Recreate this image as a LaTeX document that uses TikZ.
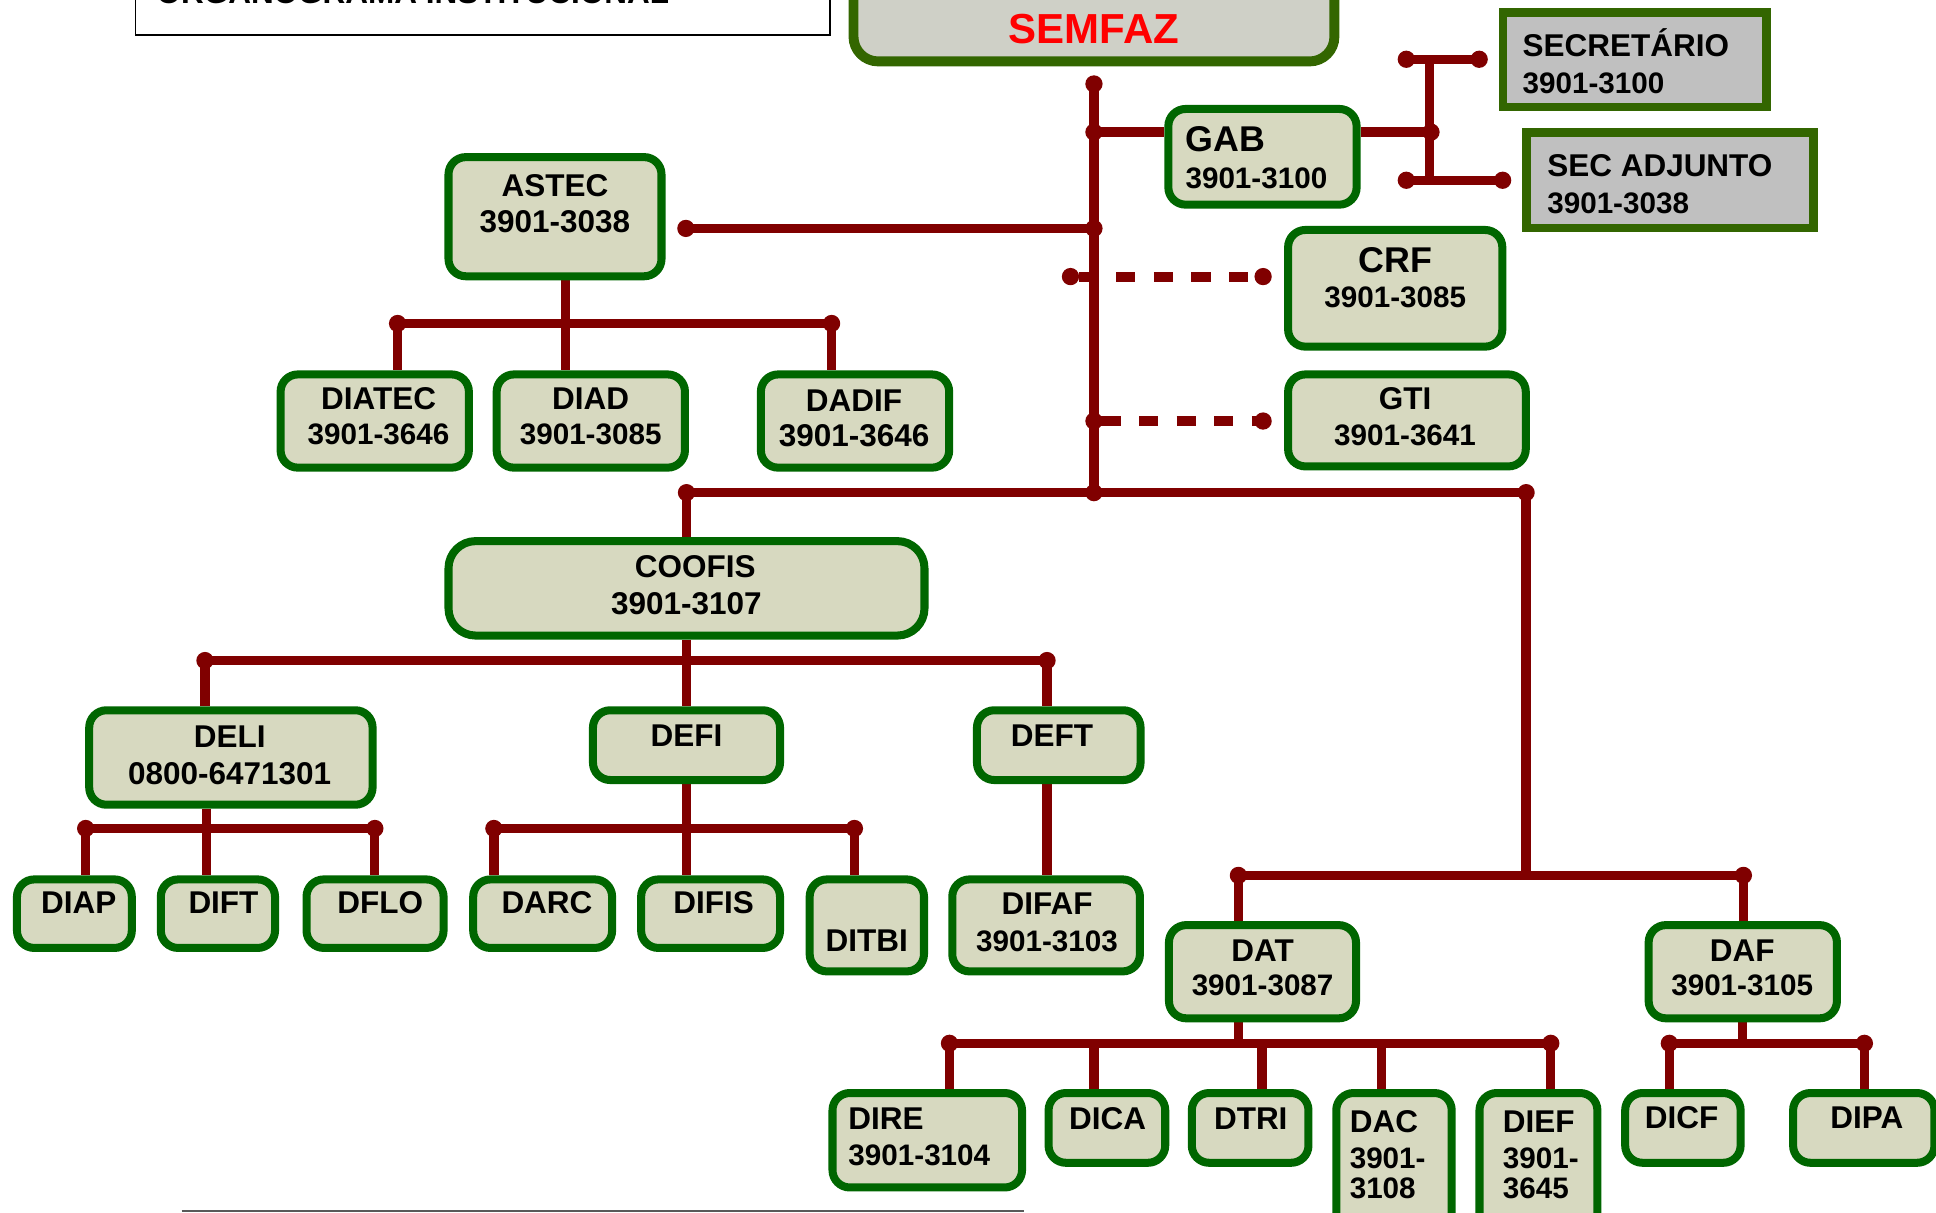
\documentclass[tikz,border=0pt]{standalone}
\usepackage{fontspec}
\setmainfont{Liberation Sans}
\usetikzlibrary{backgrounds}
\definecolor{conred}{HTML}{800000}
\definecolor{bxgreen}{HTML}{006600}
\definecolor{bxfill}{HTML}{D7D9C0}
\definecolor{olv}{HTML}{336600}
\definecolor{semfill}{HTML}{CFD0C7}
\definecolor{secfill}{HTML}{C0C0C0}
\definecolor{semred}{HTML}{FF0000}
\tikzset{
  box/.style={draw=bxgreen, line width=6.5pt, fill=bxfill, rounded corners=14pt, inner sep=0pt, rectangle},
  bigbox/.style={box, rounded corners=22pt},
  secbox/.style={draw=olv, line width=7pt, fill=secfill, inner sep=0pt, rectangle},
  sembox/.style={draw=olv, line width=8pt, fill=semfill, rounded corners=20pt, inner sep=0pt, rectangle},
  titlebox/.style={draw=black, line width=1.5pt, fill=white, inner sep=0pt, rectangle},
  conn/.style={draw=conred, line width=7.5pt},
  dashconn/.style={draw=conred, line width=8pt, dash pattern=on 15.5pt off 15pt},
  dotc/.style={fill=conred},
  nm/.style={anchor=base, inner sep=0pt, font=\bfseries\fontsize{25.5}{28}\selectfont},
  nml/.style={nm, anchor=base west},
  nmbig/.style={nm, font=\bfseries\fontsize{29}{32}\selectfont},
  num/.style={anchor=base, inner sep=0pt, font=\bfseries\fontsize{24}{27}\selectfont},
  numl/.style={num, anchor=base west},
  numbig/.style={anchor=base, inner sep=0pt, font=\bfseries\fontsize{25.5}{28}\selectfont},
}
\newcommand{\bx}[6][box]{\node[#1, minimum width={(#5)-(#3)-6.5}, minimum height={(#6)-(#4)-6.5}] (#2) at ({((#3)+(#5))/2},{((#4)+(#6))/2}) {};}
\newcommand{\dt}[1]{\fill[dotc] (#1) circle[radius=7pt];}
\begin{document}
\begin{tikzpicture}[x=1pt,y=-1pt]
\useasboundingbox (0,0) rectangle (1568,982);
\clip (0,0) rectangle (1568,982);

% title
\node[titlebox, minimum width=562.5, minimum height=87.5] (title) at (391,-15.5) {};
\node[anchor=base west, inner sep=0pt, font=\bfseries\fontsize{25.5}{28}\selectfont] (t-title) at (126.6,3) {ORGANOGRAMA INSTITUCIONAL};

% boxes
\bx[sembox]{semfaz}{688}{-40}{1084}{53}
\bx[secbox]{secretario}{1214}{7}{1434}{90}
\bx[secbox]{secadj}{1233}{104}{1472}{188}
\bx{gab}{943}{85}{1102}{169}
\bx{astec}{360}{124}{539}{227}
\bx{crf}{1040}{183}{1220}{284}
\bx{gti}{1040}{300}{1239}{381}
\bx{diatec}{224}{300}{383}{382}
\bx{diad}{399}{300}{558}{382}
\bx{dadif}{613}{300}{772}{382}
\bx[bigbox]{coofis}{360}{435}{752}{518}
\bx{deli}{69}{572}{305}{655}
\bx{defi}{477}{572}{635}{635}
\bx{deft}{788}{572}{927}{635}
\bx{diap}{10.5}{709}{110}{771}
\bx{dift}{127}{709}{226}{771}
\bx{dflo}{245}{709}{362.5}{771}
\bx{darc}{380}{709}{499}{771}
\bx{difis}{516}{709}{635}{771}
\bx{ditbi}{652.5}{709}{751.6}{790}
\bx{difaf}{768}{709}{926.5}{790}
\bx{dat}{943.5}{746}{1101.5}{828}
\bx{daf}{1332}{746}{1491}{828}
\bx{dire}{671}{882}{831}{965}
\bx{dica}{846}{882}{947}{945}
\bx{dtri}{962}{882}{1063}{945}
\bx{dac}{1079}{882}{1179}{1000}
\bx{dief}{1195}{882}{1297}{1000}
\bx{dicf}{1313}{882}{1413}{945}
\bx{dipa}{1449}{882}{1570}{945}

% texts
\node[anchor=base, inner sep=0pt, text=semred, font=\bfseries\fontsize{34}{36}\selectfont] (t-semfaz) at (886,35) {SEMFAZ};
\node[nml] (t-sec) at (1233,46) {SECRETÁRIO};
\node[numl] (n-sec) at (1233,76) {3901-3100};
\node[nml] (t-secadj) at (1253,143) {SEC ADJUNTO};
\node[numl] (n-secadj) at (1253,173) {3901-3038};
\node[nmbig, anchor=base west] (t-gab) at (960,123) {GAB};
\node[numl] (n-gab) at (960,152.5) {3901-3100};
\node[nm] (t-astec) at (449.5,159) {ASTEC};
\node[numbig] (n-astec) at (449.5,188) {3901-3038};
\node[nmbig] (t-crf) at (1130,221) {CRF};
\node[num] (n-crf) at (1130,249) {3901-3085};
\node[nm] (t-gti) at (1138,332) {GTI};
\node[num] (n-gti) at (1138,361) {3901-3641};
\node[nm] (t-diatec) at (306.6,332) {DIATEC};
\node[num] (n-diatec) at (306.6,360) {3901-3646};
\node[nm] (t-diad) at (478.4,332) {DIAD};
\node[num] (n-diad) at (478.4,360) {3901-3085};
\node[nm] (t-dadif) at (691.7,333) {DADIF};
\node[numbig] (n-dadif) at (691.7,362) {3901-3646};
\node[nm] (t-coofis) at (563,468) {COOFIS};
\node[numbig] (n-coofis) at (556,498) {3901-3107};
\node[nm] (t-deli) at (186,605.6) {DELI};
\node[numbig] (n-deli) at (186,635.5) {0800-6471301};
\node[nm] (t-defi) at (556,605) {DEFI};
\node[nm] (t-deft) at (852,605) {DEFT};
\node[nm] (t-diap) at (63.8,740) {DIAP};
\node[nm] (t-dift) at (181,740) {DIFT};
\node[nm] (t-dflo) at (308,740) {DFLO};
\node[nm] (t-darc) at (443,740) {DARC};
\node[nm] (t-difis) at (578,740) {DIFIS};
\node[nm] (t-ditbi) at (702,771) {DITBI};
\node[nm] (t-difaf) at (848,741) {DIFAF};
\node[num] (n-difaf) at (848,771) {3901-3103};
\node[nm] (t-dat) at (1022.6,779) {DAT};
\node[num] (n-dat) at (1022.6,806) {3901-3087};
\node[nm] (t-daf) at (1411,779) {DAF};
\node[num] (n-daf) at (1411,806) {3901-3105};
\node[nml] (t-dire) at (687,915) {DIRE};
\node[numl] (n-dire) at (687,944) {3901-3104};
\node[nm] (t-dica) at (897,915) {DICA};
\node[nm] (t-dtri) at (1013,915) {DTRI};
\node[nml] (t-dac) at (1093,917) {DAC};
\node[numl] (n-dac1) at (1093,946) {3901-};
\node[numl] (n-dac2) at (1093,971) {3108};
\node[nml] (t-dief) at (1217,917) {DIEF};
\node[numl] (n-dief1) at (1217,946) {3901-};
\node[numl] (n-dief2) at (1217,971) {3645};
\node[nm] (t-dicf) at (1362,914) {DICF};
\node[nm] (t-dipa) at (1512,914) {DIPA};

% bottom gray rule
\draw[black!65, line width=2pt] (147,981) -- (829,981);

\begin{pgfonlayer}{background}
% main spine
\coordinate (mTop) at (886,68);
\coordinate (mGab) at (886,107);
\coordinate (mAst) at (886,185);
\coordinate (mGti) at (886,341);
\coordinate (mBot) at (886,399);
\draw[conn] (mTop) -- (mBot);
% GAB and secretaries
\coordinate (gR) at (1159,107);
\draw[conn] (mGab) -- (mGab -| gab.west);
\draw[conn] (gab.east |- gR) -- (gR);
\coordinate (tT) at (1158,48);
\coordinate (tB) at (1158,146);
\draw[conn] (tT) -- (tB);
\coordinate (s1L) at (1139,48);
\coordinate (s1R) at (1198,48);
\coordinate (s2L) at (1139,146);
\coordinate (s2R) at (1217,146);
\draw[conn] (s1L) -- (s1R);
\draw[conn] (s2L) -- (s2R);
% ASTEC
\coordinate (aR) at (555.5,185);
\draw[conn] (aR) -- (mAst);
\coordinate (abL) at (322,262);
\coordinate (abR) at (673.5,262);
\coordinate (abS) at (458,262);
\draw[conn] (abL) -- (abR);
\draw[conn] (abS |- astec.south) -- (abS |- diad.north);
\draw[conn] (abL) -- (abL |- diatec.north);
\draw[conn] (abR) -- (abR |- dadif.north);
% CRF / GTI dashed
\coordinate (cL) at (867,224);
\coordinate (cR) at (1023,224);
\draw[dashconn, dash phase=24pt] (cL) -- (cR);
\coordinate (gtR) at (1023,341);
\draw[dashconn, dash phase=24.5pt] (mGti) -- (gtR);
% bottom bar
\coordinate (bL) at (556,399);
\coordinate (bR) at (1236,399);
\draw[conn] (bL) -- (bR);
\draw[conn] (bL) -- (bL |- coofis.north);
\coordinate (rL) at (1003,709);
\coordinate (rR) at (1412,709);
\coordinate (rM) at (1236,709);
\draw[conn] (bR) -- (rM);
\draw[conn] (rL) -- (rR);
\draw[conn] (rL) -- (rL |- dat.north);
\draw[conn] (rR) -- (rR |- daf.north);
% COOFIS
\coordinate (cbL) at (166,535);
\coordinate (cbR) at (848,535);
\coordinate (cbM) at (556,535);
\draw[conn] (cbL) -- (cbR);
\draw[conn] (cbM |- coofis.south) -- (cbM |- defi.north);
\draw[conn] (cbL) -- (cbL |- deli.north);
\draw[conn] (cbR) -- (cbR |- deft.north);
% DELI
\coordinate (dlL) at (69.4,671);
\coordinate (dlR) at (303.6,671);
\coordinate (dlM) at (167,671);
\draw[conn] (dlL) -- (dlR);
\draw[conn] (dlM |- deli.south) -- (dlM |- dift.north);
\draw[conn] (dlL) -- (dlL |- diap.north);
\draw[conn] (dlR) -- (dlR |- dflo.north);
% DEFI
\coordinate (dfL) at (400,671);
\coordinate (dfR) at (692,671);
\coordinate (dfM) at (556,671);
\draw[conn] (dfL) -- (dfR);
\draw[conn] (dfM |- defi.south) -- (dfM |- difis.north);
\draw[conn] (dfL) -- (dfL |- darc.north);
\draw[conn] (dfR) -- (dfR |- ditbi.north);
% DEFT
\draw[conn] (cbR |- deft.south) -- (cbR |- difaf.north);
% DAT
\coordinate (tL) at (769,845);
\coordinate (tR) at (1256,845);
\coordinate (tM) at (1003,845);
\coordinate (t2) at (886,845);
\coordinate (t3) at (1022,845);
\coordinate (t4) at (1119,845);
\draw[conn] (tL) -- (tR);
\draw[conn] (tM |- dat.south) -- (tM);
\draw[conn] (tL) -- (tL |- dire.north);
\draw[conn] (t2) -- (t2 |- dica.north);
\draw[conn] (t3) -- (t3 |- dtri.north);
\draw[conn] (t4) -- (t4 |- dac.north);
\draw[conn] (tR) -- (tR |- dief.north);
% DAF
\coordinate (fL) at (1352,845);
\coordinate (fR) at (1510,845);
\coordinate (fM) at (1411,845);
\draw[conn] (fL) -- (fR);
\draw[conn] (fM |- daf.south) -- (fM);
\draw[conn] (fL) -- (fL |- dicf.north);
\draw[conn] (fR) -- (fR |- dipa.north);
% dots
\dt{mTop}\dt{mGab}\dt{mAst}\dt{mGti}\dt{mBot}
\dt{gR}\dt{s1L}\dt{s1R}\dt{s2L}\dt{s2R}
\dt{aR}\dt{abL}\dt{abR}
\dt{cL}\dt{cR}\dt{gtR}
\dt{bL}\dt{bR}\dt{rL}\dt{rR}
\dt{cbL}\dt{cbR}\dt{dlL}\dt{dlR}\dt{dfL}\dt{dfR}
\dt{tL}\dt{tR}\dt{fL}\dt{fR}
\end{pgfonlayer}
\end{tikzpicture}
\end{document}
